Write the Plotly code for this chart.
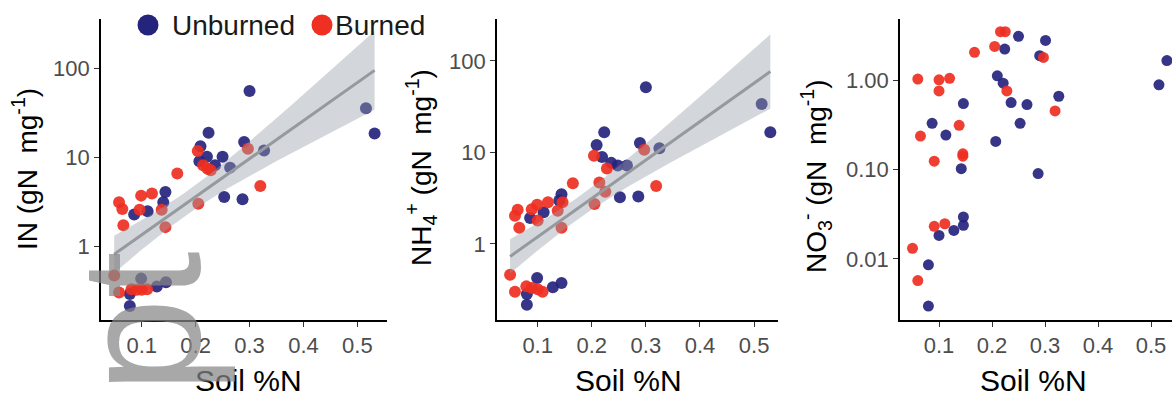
import numpy as np
import plotly.graph_objects as go

# ---------------- data ----------------
in_unb_x = [0.300, 0.516, 0.532, 0.224, 0.290, 0.209, 0.327, 0.221, 0.250, 0.207, 0.236, 0.264,
            0.253, 0.287, 0.144, 0.140, 0.111, 0.086, 0.099, 0.145, 0.128, 0.078, 0.078]
in_unb_y = [55.6, 35.5, 18.6, 18.9, 14.9, 13.4, 12.0, 10.2, 10.2, 9.1, 8.2, 7.7,
            3.6, 3.4, 4.1, 3.15, 2.5, 2.3, 0.44, 0.40, 0.358, 0.296, 0.217]
in_bur_x = [0.297, 0.204, 0.214, 0.222, 0.228, 0.166, 0.320, 0.205, 0.099, 0.119, 0.058,
            0.064, 0.096, 0.137, 0.066, 0.144, 0.049, 0.058, 0.081, 0.091, 0.100, 0.110]
in_bur_y = [12.5, 11.8, 8.2, 7.5, 7.2, 6.6, 4.8, 3.04, 3.74, 3.94, 3.15,
            2.65, 2.6, 2.6, 1.74, 1.66, 0.476, 0.307, 0.334, 0.33, 0.33, 0.334]

nh4_unb_x = [0.300, 0.514, 0.530, 0.223, 0.289, 0.209, 0.325, 0.219, 0.236, 0.248, 0.265,
             0.252, 0.286, 0.144, 0.140, 0.111, 0.086, 0.099, 0.144, 0.128, 0.080, 0.080]
nh4_unb_y = [51.5, 33.9, 16.6, 16.6, 12.7, 12.1, 11.1, 8.9, 7.7, 7.2, 7.2,
             3.24, 3.3, 3.5, 2.98, 2.22, 1.92, 0.425, 0.375, 0.336, 0.284, 0.216]
nh4_bur_x = [0.297, 0.204, 0.228, 0.165, 0.214, 0.319, 0.225, 0.205, 0.119, 0.099, 0.146, 0.137,
             0.063, 0.058, 0.089, 0.100, 0.066, 0.144, 0.049, 0.058, 0.079, 0.089, 0.100, 0.109]
nh4_bur_y = [10.7, 9.2, 6.7, 4.6, 4.7, 4.3, 3.73, 2.74, 2.85, 2.69, 2.85, 2.31,
             2.37, 2.04, 2.4, 1.80, 1.50, 1.50, 0.46, 0.30, 0.344, 0.33, 0.32, 0.30]

no3_unb_x = [0.250, 0.301, 0.224, 0.290, 0.530, 0.210, 0.221, 0.515, 0.326, 0.236, 0.266, 0.146,
             0.253, 0.087, 0.113, 0.207, 0.287, 0.142, 0.146, 0.146, 0.128, 0.100, 0.080, 0.080]
no3_unb_y = [3.1, 2.79, 2.23, 1.88, 1.66, 1.12, 0.925, 0.887, 0.661, 0.561, 0.533, 0.547,
             0.329, 0.329, 0.243, 0.206, 0.090, 0.102, 0.0294, 0.0237, 0.0208, 0.0183, 0.00857, 0.00296]
no3_bur_x = [0.216, 0.225, 0.205, 0.167, 0.297, 0.060, 0.100, 0.120, 0.100, 0.228,
             0.319, 0.138, 0.065, 0.091, 0.145, 0.145, 0.091, 0.111, 0.050, 0.060]
no3_bur_y = [3.49, 3.49, 2.39, 2.05, 1.80, 1.03, 1.01, 1.05, 0.759, 0.759,
             0.452, 0.312, 0.237, 0.124, 0.150, 0.141, 0.0231, 0.0247, 0.0131, 0.00571]

x_tickvals = [0.1, 0.2, 0.3, 0.4, 0.5]
x_ticktext = ["0.1", "0.2", "0.3", "0.4", "0.5"]
y12_tickvals = [1, 10, 100]
y12_ticktext = ["1", "10", "100"]
y3_tickvals = [0.01, 0.1, 1]
y3_ticktext = ["0.01", "0.10", "1.00"]

group_names = ["Unburned", "Burned"]
x_title = "Soil %N"
y_titles = ["IN (gN  mg<sup>-1</sup>)",
            "NH<sub>4</sub><sup>+</sup> (gN  mg<sup>-1</sup>)",
            "NO<sub>3</sub><sup>-</sup> (gN  mg<sup>-1</sup>)"]

# ---------------- styling ----------------
W, H = 1172, 400
BLUE = "#25247d"
RED = "#ee2f22"
FONT = "Liberation Sans, Arial, sans-serif"
TICK_COL = "#4d4d4d"


def px(x):
    return x / W


def py(y):
    return 1 - y / H


fig = go.Figure()


def lm_band(xs, ys, n_pts=80, tq=2.01):
    x = np.asarray(xs, float)
    ly = np.log10(np.asarray(ys, float))
    n = len(x)
    b, a = np.polyfit(x, ly, 1)
    res = ly - (a + b * x)
    s = np.sqrt(np.sum(res ** 2) / (n - 2))
    xm = x.mean()
    sxx = np.sum((x - xm) ** 2)
    xg = np.linspace(x.min(), x.max(), n_pts)
    fit = a + b * xg
    se = s * np.sqrt(1.0 / n + (xg - xm) ** 2 / sxx)
    return xg, 10 ** fit, 10 ** (fit - tq * se), 10 ** (fit + tq * se)


panels = [
    dict(xd=(101, 387), xr=(0.0245, 0.555), yr=(-0.820, 2.551), xa="x", ya="y",
         unb=(in_unb_x, in_unb_y), bur=(in_bur_x, in_bur_y), smooth=True,
         tv=y12_tickvals, tt=y12_ticktext, msize=12),
    dict(xd=(497, 778), xr=(0.0248, 0.5442), yr=(-0.831, 2.459), xa="x2", ya="y2",
         unb=(nh4_unb_x, nh4_unb_y), bur=(nh4_bur_x, nh4_bur_y), smooth=True,
         tv=y12_tickvals, tt=y12_ticktext, msize=12),
    dict(xd=(900, 1172), xr=(0.0264, 0.5396), yr=(-2.685, 0.685), xa="x3", ya="y3",
         unb=(no3_unb_x, no3_unb_y), bur=(no3_bur_x, no3_bur_y), smooth=False,
         tv=y3_tickvals, tt=y3_ticktext, msize=11),
]

layout_axes = {}
for i, p in enumerate(panels):
    sfx = "" if i == 0 else str(i + 1)
    for (xs, ys), col, nm in [(p["unb"], BLUE, group_names[0]), (p["bur"], RED, group_names[1])]:
        fig.add_trace(go.Scatter(x=xs, y=ys, mode="markers", name=nm, showlegend=False,
                                 xaxis=p["xa"], yaxis=p["ya"],
                                 marker=dict(size=p["msize"], color=col, opacity=0.92,
                                             line=dict(width=0))))
    if p["smooth"]:
        allx = list(p["unb"][0]) + list(p["bur"][0])
        ally = list(p["unb"][1]) + list(p["bur"][1])
        xg, fit, lo, hi = lm_band(allx, ally)
        fig.add_trace(go.Scatter(x=np.concatenate([xg, xg[::-1]]),
                                 y=np.concatenate([hi, lo[::-1]]),
                                 fill="toself", mode="lines", line=dict(width=0),
                                 fillcolor="rgba(150,158,168,0.42)", showlegend=False,
                                 hoverinfo="skip", xaxis=p["xa"], yaxis=p["ya"]))
        fig.add_trace(go.Scatter(x=xg, y=fit, mode="lines", showlegend=False,
                                 line=dict(color="#959a9f", width=3),
                                 xaxis=p["xa"], yaxis=p["ya"]))
    common = dict(showline=True, linecolor="black", linewidth=1.6, ticks="outside",
                  ticklen=5, tickwidth=1.2, tickcolor="#333333", showgrid=False,
                  zeroline=False, tickfont=dict(family=FONT, size=22, color=TICK_COL))
    layout_axes["xaxis" + sfx] = dict(common, domain=[px(p["xd"][0]), px(p["xd"][1])],
                                      range=list(p["xr"]), tickvals=x_tickvals,
                                      ticktext=x_ticktext, anchor="y" + sfx)
    layout_axes["yaxis" + sfx] = dict(common, type="log", domain=[py(320), py(19)],
                                      range=list(p["yr"]), tickvals=p["tv"], ticktext=p["tt"],
                                      anchor="x" + sfx)

annotations = []
# axis titles
for cx in [248, 628, 1033]:
    annotations.append(dict(text=x_title, x=px(cx), y=py(380), xref="paper", yref="paper",
                            xanchor="center", yanchor="middle", showarrow=False,
                            font=dict(family=FONT, size=30, color="black")))
for cx, cy, t in zip([25, 421, 816], [169, 168, 176], y_titles):
    annotations.append(dict(text=t, x=px(cx), y=py(cy), xref="paper", yref="paper",
                            xanchor="center", yanchor="middle", showarrow=False, textangle=-90,
                            font=dict(family=FONT, size=28, color="black")))
# legend
shapes = []
for cxl, col, nm, tx in [(148, BLUE, group_names[0], 170), (322, RED, group_names[1], 333)]:
    r = 10.5
    shapes.append(dict(type="circle", xref="paper", yref="paper", x0=px(cxl - r), x1=px(cxl + r),
                       y0=py(25 + r), y1=py(25 - r), fillcolor=col, line=dict(width=0)))
    annotations.append(dict(text=nm, x=px(tx), y=py(25), xref="paper", yref="paper",
                            xanchor="left", yanchor="middle", showarrow=False,
                            font=dict(family=FONT, size=28, color="#1a1a1a")))
# stray grey glyphs over the first panel
annotations.append(dict(text="pt", x=px(141), y=py(322), xref="paper", yref="paper",
                        xanchor="center", yanchor="middle", showarrow=False, textangle=-90,
                        font=dict(family=FONT, size=170, color="rgba(135,135,135,0.72)")))

fig.update_layout(width=W, height=H, margin=dict(l=0, r=0, t=0, b=0),
                  paper_bgcolor="white", plot_bgcolor="white", showlegend=False,
                  annotations=annotations, shapes=shapes, **layout_axes)

fig.write_html("out.html")
